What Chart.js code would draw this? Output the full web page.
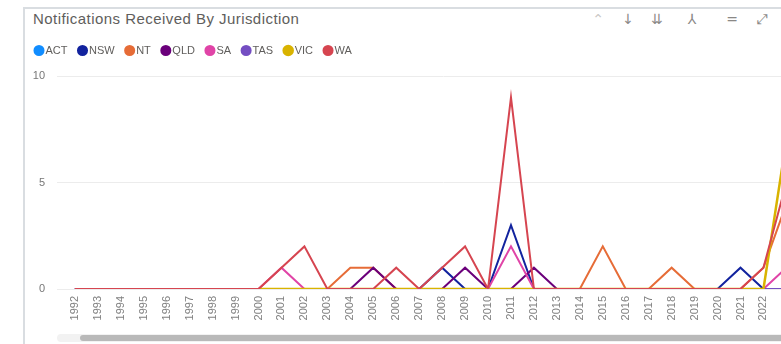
<!DOCTYPE html>
<html>
<head>
<meta charset="utf-8">
<script src="https://cdn.jsdelivr.net/npm/chart.js@4.4.1/dist/chart.umd.min.js"></script>
<style>
  html, body { margin: 0; padding: 0; width: 781px; height: 344px; overflow: hidden; background: #fff; }
  body { position: relative; font-family: "Segoe UI", "Liberation Sans", Arial, sans-serif; }
  #frame { position: absolute; left: 23px; top: 7px; width: 800px; height: 400px; border-top: 2px solid #d9dde1; border-left: 2px solid #d9dde1; }
  #title { position: absolute; left: 33px; top: 10px; line-height: 18px; font-size: 15px; letter-spacing: 0.45px; color: #605e5c; white-space: nowrap; }
  .icon { position: absolute; top: 10px; line-height: 18px; font-size: 14px; color: #8a8886; font-family: "DejaVu Sans", sans-serif; transform: translateX(-50%); }
  #track { position: absolute; left: 57px; top: 334px; width: 760px; height: 8px; background: #f2f2f2; border-radius: 4px; }
  #thumb { position: absolute; left: 80px; top: 335px; width: 740px; height: 6px; background: #b9b9b9; border-radius: 3px; }
  #wrap { position: absolute; left: 0; top: 0; width: 830px; height: 344px; }
</style>
</head>
<body>
<div id="frame"></div>
<div id="title">Notifications Received By Jurisdiction</div>
<div class="icon" style="left:598px;color:#c8c6c4">&#8963;</div>
<div class="icon" style="left:628px">&#8595;</div>
<div class="icon" style="left:657px">&#8650;</div>
<div class="icon" style="left:692px">&#8516;</div>
<div class="icon" style="left:732px">=</div>
<div class="icon" style="left:762px">&#10530;</div>
<div id="track"></div>
<div id="thumb"></div>
<div id="wrap"><canvas id="myChart"></canvas></div>
<script>
const years = [1992, 1993, 1994, 1995, 1996, 1997, 1998, 1999, 2000, 2001, 2002, 2003, 2004, 2005, 2006, 2007,
               2008, 2009, 2010, 2011, 2012, 2013, 2014, 2015, 2016, 2017, 2018, 2019, 2020, 2021, 2022, 2023];

const act = [0, 0, 0, 0, 0, 0, 0, 0, 0, 0, 0, 0, 0, 0, 0, 0, 0, 0, 0, 0, 0, 0, 0, 0, 0, 0, 0, 0, 0, 0, 0, 0];
const nsw = [0, 0, 0, 0, 0, 0, 0, 0, 0, 0, 0, 0, 0, 0, 0, 0, 1, 0, 0, 3, 0, 0, 0, 0, 0, 0, 0, 0, 0, 1, 0, 0];
const nt  = [0, 0, 0, 0, 0, 0, 0, 0, 0, 0, 0, 0, 1, 1, 0, 0, 0, 0, 0, 0, 0, 0, 0, 2, 0, 0, 1, 0, 0, 0, 1, 4];
const qld = [0, 0, 0, 0, 0, 0, 0, 0, 0, 0, 0, 0, 0, 1, 0, 0, 0, 1, 0, 0, 1, 0, 0, 0, 0, 0, 0, 0, 0, 0, 0, 0];
const sa  = [0, 0, 0, 0, 0, 0, 0, 0, 0, 1, 0, 0, 0, 0, 0, 0, 0, 0, 0, 2, 0, 0, 0, 0, 0, 0, 0, 0, 0, 0, 0, 1];
const tas = [0, 0, 0, 0, 0, 0, 0, 0, 0, 0, 0, 0, 0, 0, 0, 0, 0, 0, 0, 0, 0, 0, 0, 0, 0, 0, 0, 0, 0, 0, 0, 0];
const vic = [null, null, null, null, null, null, null, null, 0, 0, 0, 0, 0, 0, 0, 0, 0, 0, 0, 0, 0, 0, 0, 0, 0, 0, 0, 0, 0, 0, 0, 7];
const wa  = [0, 0, 0, 0, 0, 0, 0, 0, 0, 1, 2, 0, 0, 0, 1, 0, 1, 2, 0, 9, 0, 0, 0, 0, 0, 0, 0, 0, 0, 0, 1, 5];

const yTicks = [0, 5, 10];

const fontFamily = '"Segoe UI", "Liberation Sans", Arial, sans-serif';

// later series sit on top, like the legend order (Chart.js draws lowest order last)
function series(label, values, color, order, width) {
    return {
        label: label,
        data: values.map((v, i) => ({ x: years[i], y: v })),
        borderColor: color,
        backgroundColor: color,
        borderWidth: width || 2,
        pointRadius: 0,
        tension: 0,
        order: order
    };
}

// push the plot area down a bit below the legend
const legendMargin = {
    id: 'legendMargin',
    beforeInit(chart) {
        const fitValue = chart.legend.fit;
        chart.legend.fit = function fit() {
            fitValue.bind(chart.legend)();
            this.height += 10;
        };
    }
};

const ctx = document.getElementById('myChart').getContext('2d');
const chart = new Chart(ctx, {
    type: 'line',
    data: {
        datasets: [
            series('ACT', act, '#118DFF', 7),
            series('NSW', nsw, '#12239E', 6),
            series('NT', nt, '#E66C37', 5),
            series('QLD', qld, '#6B007B', 4),
            series('SA', sa, '#E044A7', 3),
            series('TAS', tas, '#744EC2', 2),
            series('VIC', vic, '#D9B300', 1, 2.5),
            series('WA', wa, '#D64550', 0)
        ]
    },
    options: {
        responsive: true,
        maintainAspectRatio: false,
        animation: false,
        layout: { padding: { top: 31, left: 24, right: 0, bottom: 0 } },
        plugins: {
            legend: {
                position: 'top',
                align: 'start',
                labels: {
                    usePointStyle: true,
                    pointStyle: 'circle',
                    boxWidth: 2,
                    boxHeight: 6.4,
                    padding: 14,
                    color: '#605e5c',
                    font: { size: 11, family: fontFamily },
                    sort: (a, b) => a.datasetIndex - b.datasetIndex
                }
            },
            tooltip: { enabled: false }
        },
        scales: {
            x: {
                type: 'linear',
                min: years[0] - 0.78,
                max: years[0] + 32.9,
                afterBuildTicks: axis => { axis.ticks = years.map(v => ({ value: v })); },
                afterFit: axis => { axis.height = 55; },
                grid: { display: false, drawTicks: false },
                border: { display: false },
                ticks: {
                    autoSkip: false,
                    minRotation: 90,
                    maxRotation: 90,
                    padding: 7,
                    color: '#808080',
                    font: { size: 11, family: fontFamily },
                    callback: v => String(v)
                }
            },
            y: {
                min: 0,
                max: 10,
                afterBuildTicks: axis => { axis.ticks = yTicks.map(v => ({ value: v })); },
                afterFit: axis => { axis.width = 33; },
                grid: { color: '#ececec', drawTicks: false },
                border: { display: false },
                ticks: {
                    padding: 12,
                    color: '#777',
                    font: { size: 11, family: fontFamily }
                }
            }
        }
    },
    plugins: [legendMargin]
});
</script>
</body>
</html>
